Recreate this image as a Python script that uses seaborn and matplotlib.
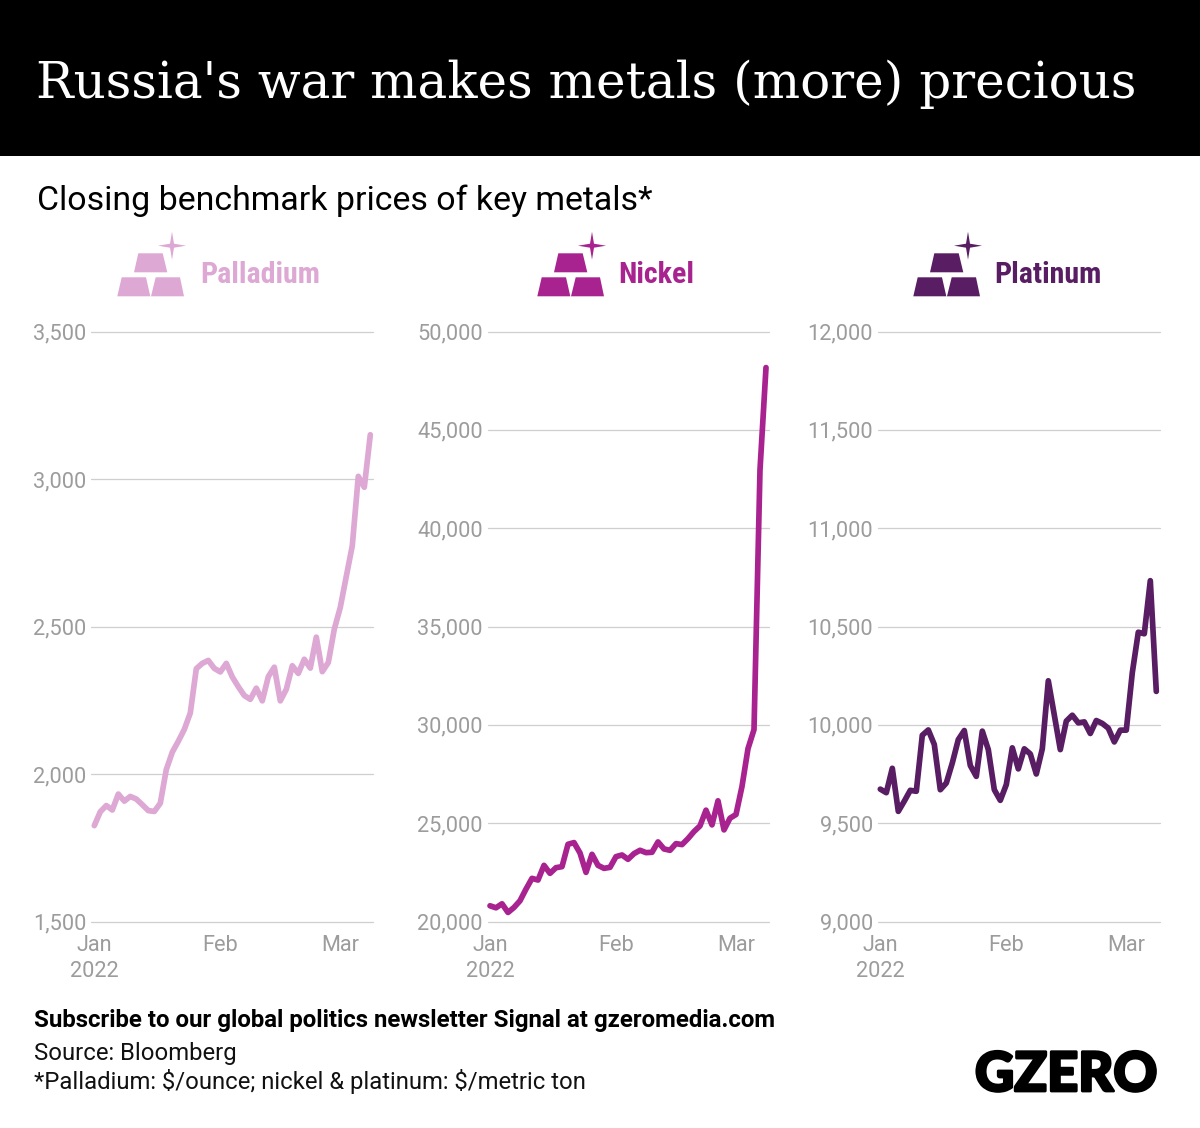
import numpy as np
import pandas as pd
import matplotlib
matplotlib.use('Agg')
import matplotlib.pyplot as plt
import matplotlib.patheffects as pe
from matplotlib.patches import Polygon, Rectangle
import seaborn as sns

# Closing prices, one per trading day
palladium = [1825, 1872, 1893, 1878, 1932, 1908, 1924, 1915, 1896, 1876, 1873, 1901,
             2015, 2074, 2111, 2151, 2207, 2357, 2375, 2385, 2358, 2346, 2375, 2329,
             2296, 2266, 2253, 2291, 2248, 2330, 2362, 2248, 2287, 2367, 2341, 2389,
             2359, 2464, 2347, 2378, 2491, 2565, 2670, 2774, 3009, 2972, 3150]
nickel = [20799, 20697, 20901, 20459, 20714, 21054, 21649, 22193, 22108, 22856, 22448, 22737,
          22788, 23927, 24012, 23485, 22499, 23417, 22856, 22703, 22754, 23298, 23383, 23162,
          23451, 23621, 23502, 23519, 24046, 23689, 23621, 23961, 23910, 24216, 24573, 24862,
          25661, 24913, 26137, 24658, 25253, 25440, 26868, 28789, 29758, 42970, 48166]
platinum = [9673, 9655, 9779, 9560, 9612, 9667, 9662, 9947, 9974, 9900, 9670, 9704,
            9806, 9925, 9971, 9793, 9738, 9968, 9874, 9670, 9616, 9696, 9883, 9776,
            9878, 9852, 9750, 9878, 10224, 10050, 9874, 10019, 10049, 10010, 10015, 9956,
            10022, 10007, 9983, 9913, 9973, 9973, 10265, 10471, 10463, 10733, 10170]

metals = ['Palladium', 'Nickel', 'Platinum']
colors = ['#dda8d4', '#a8238f', '#581d63']
y_ticks = [[1500, 2000, 2500, 3000, 3500],
           [20000, 25000, 30000, 35000, 40000, 45000, 50000],
           [9000, 9500, 10000, 10500, 11000, 11500, 12000]]
month_labels = ['Jan\n2022', 'Feb', 'Mar']
month_starts = ['2022-01-03', '2022-02-01', '2022-03-01']

W, H = 1200, 1128
# plot boxes in pixels: left, right, where the first day sits
boxes = [(91, 372.5, 94.3), (487.5, 768.5, 490), (878, 1159.5, 880.3)]
day_px = 6
top_px, bottom_px = 331.5, 921.5
icon_x = [100, 520, 896]
label_x = [200.5, 618.5, 994.5]

sns.set_theme(style='white')
plt.rcParams['font.family'] = ['Roboto', 'DejaVu Sans']

dates = pd.bdate_range('2022-01-03', periods=len(palladium))
df = pd.DataFrame({'date': dates, 'day': np.arange(len(dates)),
                   'Palladium': palladium, 'Nickel': nickel, 'Platinum': platinum})
tick_pos = [dates.get_loc(pd.Timestamp(d)) for d in month_starts]

fig = plt.figure(figsize=(W / 100, H / 100), dpi=100, facecolor='white')

# page layer in pixel coordinates for the banner, icons and notes
page = fig.add_axes([0, 0, 1, 1], zorder=0)
page.set_xlim(0, W)
page.set_ylim(H, 0)
page.axis('off')
page.add_patch(Rectangle((0, 0), W, 156, color='black', lw=0))

page.text(36, 98, "Russia's war makes metals (more) precious", color='white',
          family='DejaVu Serif', fontsize=36, va='baseline')
page.text(37, 210, 'Closing benchmark prices of key metals*', color='black',
          fontsize=24.4, va='baseline')
page.text(34, 1027, 'Subscribe to our global politics newsletter Signal at gzeromedia.com',
          color='black', fontsize=17.25, fontweight='bold', va='baseline')
page.text(34, 1060, 'Source: Bloomberg', color='#111111', fontsize=17.2, va='baseline')
page.text(34, 1089, r'*Palladium: \$/ounce; nickel & platinum: \$/metric ton', color='#111111',
          fontsize=17.2, va='baseline')
page.text(975, 1091, 'GZERO', color='black', family='Lato', fontweight='black',
          fontsize=39, va='baseline',
          path_effects=[pe.withStroke(linewidth=2, foreground='black')])


def draw_icon(ax, x0, color):
    # gold bars and a sparkle, offsets in pixels from the icon corner
    bars = [[(38.3, 28.3), (62.7, 28.3), (67.3, 47.3), (34, 47.3)],
            [(21.7, 52.3), (46, 52.3), (50.3, 71.3), (17.3, 71.3)],
            [(55.7, 52.3), (80, 52.3), (84, 71.3), (51, 71.3)]]
    for bar in bars:
        ax.add_patch(Polygon([(x0 + x, 225 + y) for x, y in bar], color=color, lw=0))
    cx, cy = x0 + 72, 225 + 20.7
    star = [(cx, cy - 14), (cx + 2, cy - 2), (cx + 14, cy), (cx + 2, cy + 2),
            (cx, cy + 14), (cx - 2, cy + 2), (cx - 14, cy), (cx - 2, cy - 2)]
    ax.add_patch(Polygon(star, color=color, lw=0))


for i, metal in enumerate(metals):
    left, right, first_day = boxes[i]
    ax = fig.add_axes([left / W, 1 - bottom_px / H, (right - left) / W, (bottom_px - top_px) / H],
                      zorder=1)
    ax.patch.set_alpha(0)
    sns.lineplot(data=df, x='day', y=metal, color=colors[i], linewidth=4.1, ax=ax,
                 errorbar=None, clip_on=False, zorder=3,
                 solid_joinstyle='round', solid_capstyle='round')
    ax.set_xlim((left - first_day) / day_px, (right - first_day) / day_px)
    ax.set_ylim(y_ticks[i][0], y_ticks[i][-1])
    ax.set_yticks(y_ticks[i])
    ax.set_yticklabels([f'{v:,}' for v in y_ticks[i]])
    ax.set_xticks(tick_pos)
    ax.set_xticklabels(month_labels, linespacing=1.35)
    ax.set_xlabel('')
    ax.set_ylabel('')
    ax.grid(axis='y', color='#cfcfcf', linewidth=0.9, clip_on=False)
    ax.tick_params(axis='y', length=0, pad=3.5, labelsize=15.7, labelcolor='#9c9c9c')
    ax.tick_params(axis='x', length=0, pad=9.5, labelsize=15.7, labelcolor='#9c9c9c')
    sns.despine(ax=ax, left=True, bottom=True)

    draw_icon(page, icon_x[i], colors[i])
    page.text(label_x[i], 283, metal, color=colors[i], va='baseline',
              family=['Roboto Condensed', 'Roboto'],
              fontweight='bold', fontsize=21.6)

fig.savefig('out.png', dpi=100)
